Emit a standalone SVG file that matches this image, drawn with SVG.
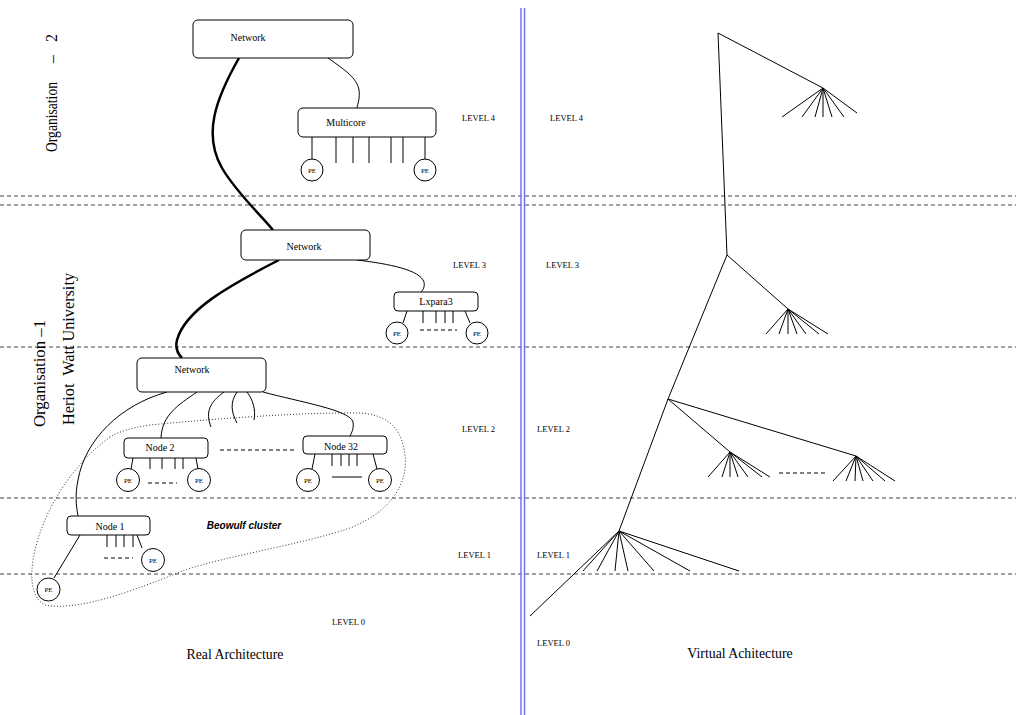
<svg xmlns="http://www.w3.org/2000/svg" width="1016" height="715" viewBox="0 0 1016 715">
<style>
.bg{fill:#fff}
.box{fill:#fff;stroke:#000;stroke-width:1}
.pe{fill:#fff;stroke:#000;stroke-width:1}
.ln{fill:none;stroke:#000;stroke-width:1}
.thick{fill:none;stroke:#000;stroke-width:2.5}
.sep{fill:none;stroke:#444;stroke-width:1;stroke-dasharray:4 3}
.dsh{fill:none;stroke:#000;stroke-width:1;stroke-dasharray:4 3}
.dot{fill:none;stroke:#000;stroke-width:0.8;stroke-dasharray:1 2}
.blue{stroke:#7070ff;stroke-width:1.5}
.t{font-family:"Liberation Serif",serif;fill:#000}
.lbl{font-size:10px;text-anchor:middle}
.pet{font-size:7px;text-anchor:middle}
.lev{font-size:8.5px}
.big{font-size:13.8px;text-anchor:middle}
.side{font-size:16px}
</style>
<rect class="bg" x="0" y="0" width="1016" height="715"/>

<g id="separators">
<line class="sep" x1="0" y1="196" x2="1016" y2="196"/>
<line class="sep" x1="0" y1="205" x2="1016" y2="205"/>
<line class="sep" x1="0" y1="347" x2="1016" y2="347"/>
<line class="sep" x1="0" y1="498" x2="1016" y2="498"/>
<line class="sep" x1="0" y1="574" x2="1016" y2="574"/>
</g>

<g id="divider">
<line class="blue" x1="521" y1="8" x2="521" y2="715"/>
<line class="blue" x1="524.5" y1="8" x2="524.5" y2="715"/>
</g>

<g id="side-labels">
<text class="t side" transform="translate(57,152) rotate(-90)"><tspan x="0" textLength="70" lengthAdjust="spacingAndGlyphs">Organisation</tspan><tspan x="89">–</tspan><tspan x="110">2</tspan></text>
<text class="t side" transform="translate(45,427) rotate(-90)" textLength="107" lengthAdjust="spacingAndGlyphs">Organisation –1</text>
<text class="t side" transform="translate(74,425) rotate(-90)" textLength="152" lengthAdjust="spacingAndGlyphs" xml:space="preserve">Heriot  Watt University</text>
</g>

<g id="cluster">
<path class="dot" d="M110,437 C85,455 60,485 45,520 C30,555 25,595 45,605 C80,612 140,588 185,570 C230,555 300,545 350,528 C395,510 408,480 405,455 C402,430 390,415 360,413 C300,412 200,420 150,425 C130,428 118,432 110,437 Z"/>
<text x="244" y="529" text-anchor="middle" style="font-family:'Liberation Sans',sans-serif;font-size:10px;font-weight:bold;font-style:italic">Beowulf cluster</text>
</g>

<g id="connectors">
<path class="thick" d="M239,58 C215,100 203,135 222,168 C236,192 258,212 273,230"/>
<path class="thick" d="M279,260 C230,285 185,310 177,340 C175,348 178,354 182,358"/>
<path class="ln" d="M328,58 C345,70 357,78 359,90 C360,98 358,103 357,108"/>
<path class="ln" d="M357,260 C390,264 420,270 424,282 C425,287 423,290 421,292"/>
<path class="ln" d="M167,392 C120,405 85,440 78,480 C75,495 76,505 78,516"/>
<path class="ln" d="M197,392 C178,405 162,415 161,438"/>
<path class="ln" d="M224,392 C210,402 205,412 211,427"/>
<path class="ln" d="M237,392 C230,402 231,412 237,423"/>
<path class="ln" d="M247,392 C253,400 256,410 254,420"/>
<path class="ln" d="M263,392 C300,402 350,410 353,422 C354,428 352,432 350,436"/>
<line class="dsh" x1="220" y1="450" x2="296" y2="450"/>
</g>

<g id="network1">
<rect class="box" x="193" y="20" width="160" height="38" rx="5"/>
<text class="t lbl" x="248" y="41">Network</text>
</g>

<g id="multicore">
<rect class="box" x="298" y="108" width="138" height="29" rx="5"/>
<text class="t lbl" x="346" y="126">Multicore</text>
<line class="ln" x1="312" y1="137" x2="312" y2="159"/>
<line class="ln" x1="336" y1="137" x2="336" y2="163"/>
<line class="ln" x1="353" y1="137" x2="353" y2="163"/>
<line class="ln" x1="369" y1="137" x2="369" y2="163"/>
<line class="ln" x1="391" y1="137" x2="391" y2="163"/>
<line class="ln" x1="403" y1="137" x2="403" y2="163"/>
<line class="ln" x1="425" y1="137" x2="425" y2="159"/>
<circle class="pe" cx="312" cy="170" r="11"/>
<text class="t pet" x="312" y="172.5">PE</text>
<circle class="pe" cx="425" cy="170" r="11"/>
<text class="t pet" x="425" y="172.5">PE</text>
</g>

<g id="network2">
<rect class="box" x="241" y="230" width="129" height="30" rx="5"/>
<text class="t lbl" x="304" y="250">Network</text>
</g>

<g id="lxpara3">
<rect class="box" x="394" y="292" width="84" height="19" rx="4"/>
<text class="t lbl" x="436" y="305">Lxpara3</text>
<line class="ln" x1="407" y1="311" x2="403" y2="323"/>
<line class="ln" x1="423" y1="311" x2="423" y2="323"/>
<line class="ln" x1="436" y1="311" x2="436" y2="323"/>
<line class="ln" x1="445" y1="311" x2="445" y2="323"/>
<line class="ln" x1="453" y1="311" x2="453" y2="323"/>
<line class="ln" x1="465" y1="311" x2="470" y2="323"/>
<line class="dsh" x1="420" y1="330" x2="457" y2="330"/>
<circle class="pe" cx="397" cy="333" r="11"/>
<text class="t pet" x="397" y="335.5">PE</text>
<circle class="pe" cx="477" cy="333" r="11"/>
<text class="t pet" x="477" y="335.5">PE</text>
</g>

<g id="network3">
<rect class="box" x="137" y="358" width="129" height="34" rx="5"/>
<text class="t lbl" x="192" y="373">Network</text>
</g>

<g id="node2">
<rect class="box" x="124" y="438" width="84" height="20" rx="4"/>
<text class="t lbl" x="160" y="451">Node 2</text>
<line class="ln" x1="133" y1="458" x2="131" y2="469"/>
<line class="ln" x1="150" y1="458" x2="150" y2="469"/>
<line class="ln" x1="162" y1="458" x2="162" y2="469"/>
<line class="ln" x1="175" y1="458" x2="175" y2="469"/>
<line class="ln" x1="183" y1="458" x2="183" y2="469"/>
<line class="ln" x1="196" y1="458" x2="198" y2="469"/>
<line class="dsh" x1="148" y1="483" x2="177" y2="483"/>
<circle class="pe" cx="128" cy="480" r="11.5"/>
<text class="t pet" x="128" y="482.5">PE</text>
<circle class="pe" cx="199" cy="480" r="11.5"/>
<text class="t pet" x="199" y="482.5">PE</text>
</g>

<g id="node32">
<rect class="box" x="303" y="436" width="84" height="18" rx="4"/>
<text class="t lbl" x="341" y="450">Node 32</text>
<line class="ln" x1="315" y1="454" x2="312" y2="469"/>
<line class="ln" x1="332" y1="454" x2="332" y2="466"/>
<line class="ln" x1="341" y1="454" x2="341" y2="466"/>
<line class="ln" x1="349" y1="454" x2="349" y2="466"/>
<line class="ln" x1="357" y1="454" x2="357" y2="466"/>
<line class="ln" x1="373" y1="454" x2="377" y2="469"/>
<line class="ln" x1="332" y1="477" x2="362" y2="477"/>
<circle class="pe" cx="308" cy="480" r="11.5"/>
<text class="t pet" x="308" y="482.5">PE</text>
<circle class="pe" cx="380" cy="480" r="11.5"/>
<text class="t pet" x="380" y="482.5">PE</text>
</g>

<g id="node1">
<rect class="box" x="67" y="516" width="83" height="19" rx="4"/>
<text class="t lbl" x="110" y="530">Node 1</text>
<line class="ln" x1="80" y1="535" x2="54" y2="578"/>
<line class="ln" x1="107" y1="535" x2="107" y2="547"/>
<line class="ln" x1="116" y1="535" x2="116" y2="547"/>
<line class="ln" x1="124" y1="535" x2="124" y2="547"/>
<line class="ln" x1="133" y1="535" x2="133" y2="547"/>
<line class="ln" x1="137" y1="535" x2="142" y2="548"/>
<line class="dsh" x1="104" y1="558" x2="133" y2="558"/>
<circle class="pe" cx="153" cy="560" r="11.5"/>
<text class="t pet" x="153" y="562.5">PE</text>
<circle class="pe" cx="48.5" cy="589.5" r="11.5"/>
<text class="t pet" x="48.5" y="592">PE</text>
</g>

<g id="levels">
<text class="t lev" x="462" y="121">LEVEL 4</text>
<text class="t lev" x="453" y="268">LEVEL 3</text>
<text class="t lev" x="462" y="432">LEVEL 2</text>
<text class="t lev" x="458" y="558">LEVEL 1</text>
<text class="t lev" x="332" y="625">LEVEL 0</text>
<text class="t lev" x="550" y="121">LEVEL 4</text>
<text class="t lev" x="546" y="268">LEVEL 3</text>
<text class="t lev" x="537" y="432">LEVEL 2</text>
<text class="t lev" x="537" y="558">LEVEL 1</text>
<text class="t lev" x="537" y="646">LEVEL 0</text>
</g>

<g id="virtual-tree">
<polyline class="ln" points="823,88 718,33 727,255 788,309"/>
<polyline class="ln" points="727,255 668,399 619,531 530,616"/>
<line class="ln" x1="668" y1="399" x2="730" y2="452"/>
<line class="ln" x1="668" y1="399" x2="856" y2="456"/>
<path class="ln" d="M823,88 L782,117 M823,88 L802,117 M823,88 L815,117 M823,88 L823,117 M823,88 L832,117 M823,88 L844,117 M823,88 L857,113"/>
<path class="ln" d="M788,309 L766,334 M788,309 L779,334 M788,309 L788,334 M788,309 L797,334 M788,309 L806,334 M788,309 L819,334 M788,309 L828,334"/>
<path class="ln" d="M730,452 L708,477 M730,452 L722,477 M730,452 L730,477 M730,452 L738,477 M730,452 L748,477 M730,452 L762,477 M730,452 L770,477"/>
<path class="ln" d="M856,456 L833,481 M856,456 L846,481 M856,456 L855,481 M856,456 L863,481 M856,456 L873,481 M856,456 L885,481 M856,456 L895,481"/>
<path class="ln" d="M619,531 L583,571 M619,531 L597,571 M619,531 L615,571 M619,531 L628,571 M619,531 L654,571 M619,531 L690,571 M619,531 L739,571"/>
<line class="dsh" x1="779" y1="473" x2="828" y2="473"/>
</g>

<g id="titles">
<text class="t big" x="235" y="659">Real Architecture</text>
<text class="t big" x="740" y="658">Virtual Achitecture</text>
</g>
</svg>
